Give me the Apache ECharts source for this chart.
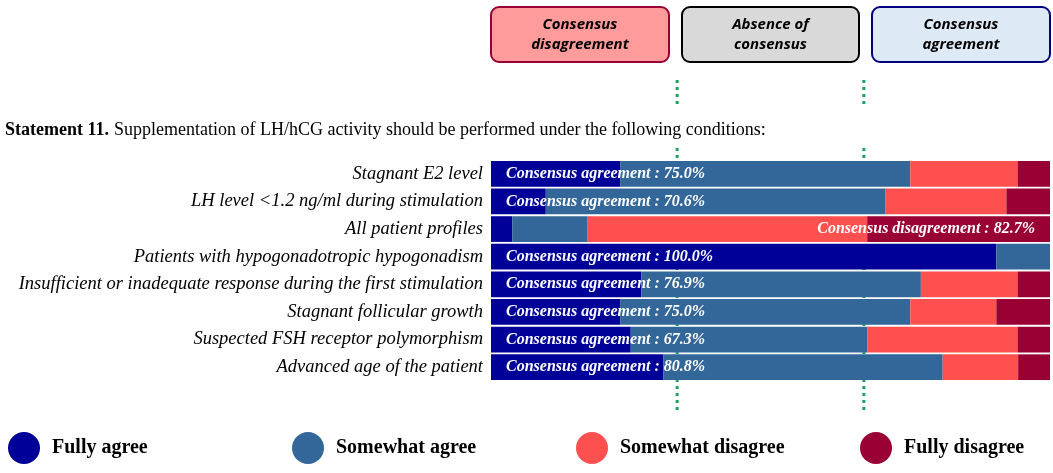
<!DOCTYPE html>
<html>
<head>
<meta charset="utf-8">
<script src="https://cdn.jsdelivr.net/npm/echarts@6/dist/echarts.min.js"></script>
<style>
  html, body { margin: 0; padding: 0; background: #fff; }
  #chart { width: 1053px; height: 473px; }
</style>
</head>
<body>
<div id="chart"></div>
<script>
// statement 11 - categories top to bottom
const categories = [
  'Stagnant E2 level',
  'LH level <1.2 ng/ml during stimulation',
  'All patient profiles',
  'Patients with hypogonadotropic hypogonadism',
  'Insufficient or inadequate response during the first stimulation',
  'Stagnant follicular growth',
  'Suspected FSH receptor polymorphism',
  'Advanced age of the patient'
];

// percentages
const fullyAgree       = [23.1, 9.8, 3.8, 90.4, 26.9, 23.1, 25.0, 30.8];
const somewhatAgree    = [51.9, 60.8, 13.5, 9.6, 50.0, 51.9, 42.3, 50.0];
const somewhatDisagree = [19.2, 21.6, 50.0, 0, 17.3, 15.4, 26.9, 13.5];
const fullyDisagree    = [5.8, 7.8, 32.7, 0, 5.8, 9.6, 5.8, 5.8];

const seriesNames = ['Fully agree', 'Somewhat agree', 'Somewhat disagree', 'Fully disagree'];
const seriesColors = ['#000099', '#336699', '#ff5050', '#990033'];

// consensus thresholds (percent)
const thresholds = [33.3, 66.7];

const serif = '"Liberation Serif", "Times New Roman", serif';
const sans = '"Open Sans", "Noto Sans", sans-serif';

// consensus label per row
const consensusLabels = categories.map((c, i) => {
  let agree = fullyAgree[i] + somewhatAgree[i];
  let disagree = somewhatDisagree[i] + fullyDisagree[i];
  if (disagree >= thresholds[1]) {
    return { value: 100, label: { position: 'insideRight', formatter: 'Consensus disagreement : ' + disagree.toFixed(1) + '%' } };
  }
  return { value: 100, label: { position: 'insideLeft', formatter: 'Consensus agreement : ' + agree.toFixed(1) + '%' } };
});

const chart = echarts.init(document.getElementById('chart'));

const dataSets = [fullyAgree, somewhatAgree, somewhatDisagree, fullyDisagree];
const series = dataSets.map((d, i) => ({
  name: seriesNames[i],
  type: 'bar',
  stack: 'total',
  data: d,
  barCategoryGap: '7%',
  itemStyle: { color: seriesColors[i] },
  emphasis: { disabled: true }
}));

// transparent overlay carrying the consensus text
series.push({
  name: 'consensus',
  type: 'bar',
  data: consensusLabels,
  barGap: '-100%',
  z: 3,
  silent: true,
  itemStyle: { color: 'rgba(0,0,0,0)' },
  label: {
    show: true,
    distance: 15,
    color: '#fff',
    fontFamily: serif,
    fontStyle: 'italic',
    fontWeight: 'bold',
    fontSize: 16
  }
});

// one legend per item so they sit on a fixed spacing
const legendLefts = [3, 287, 571, 855];
const legends = seriesNames.map((n, i) => ({
  data: [n],
  left: legendLefts[i],
  top: 427,
  icon: 'circle',
  itemWidth: 32,
  itemHeight: 32,
  selectedMode: false,
  textStyle: {
    fontFamily: serif,
    fontWeight: 'bold',
    fontSize: 20,
    color: '#000',
    padding: [0, 0, 0, 7]
  }
}));

const option = {
  animation: false,
  backgroundColor: '#fff',
  title: {
    left: 0,
    top: 116,
    text: '{b|Statement 11.} {n|Supplementation of LH/hCG activity should be performed under the following conditions:}',
    textStyle: {
      rich: {
        b: { fontFamily: serif, fontWeight: 'bold', fontSize: 18, color: '#000' },
        n: { fontFamily: serif, fontWeight: 'normal', fontSize: 18, color: '#000' }
      }
    }
  },
  legend: legends,
  grid: { left: 491, right: 3, top: 160, bottom: 92 },
  xAxis: {
    type: 'value',
    min: 0,
    max: 100,
    show: false
  },
  yAxis: {
    type: 'category',
    data: categories,
    inverse: true,
    axisLine: { show: false },
    axisTick: { show: false },
    axisLabel: {
      margin: 8,
      color: '#000',
      fontFamily: serif,
      fontStyle: 'italic',
      fontSize: 18.5
    }
  },
  series: series
};

chart.setOption(option);

// header boxes + dotted threshold lines
const boxes = [
  { text: 'Consensus\ndisagreement', x: 491, w: 178, fill: '#ff9b9b', stroke: '#990033' },
  { text: 'Absence of\nconsensus', x: 682, w: 177, fill: '#d9d9d9', stroke: '#000000' },
  { text: 'Consensus\nagreement', x: 872, w: 178, fill: '#dee9f6', stroke: '#000080' }
];

let graphics = [];
boxes.forEach(b => {
  graphics.push({
    type: 'rect',
    shape: { x: b.x, y: 7, width: b.w, height: 55, r: 8 },
    style: { fill: b.fill, stroke: b.stroke, lineWidth: 2 }
  });
  graphics.push({
    type: 'text',
    x: b.x + b.w / 2,
    y: 35,
    style: {
      text: b.text,
      align: 'center',
      verticalAlign: 'middle',
      fontFamily: sans,
      fontStyle: 'italic',
      fontWeight: 'bold',
      fontSize: 15,
      lineHeight: 20,
      fill: '#000'
    }
  });
});

thresholds.forEach(t => {
  let px = chart.convertToPixel({ gridIndex: 0 }, [t, 0])[0];
  [[80, 107], [148, 410]].forEach(seg => {
    graphics.push({
      type: 'line',
      z: 0,
      shape: { x1: px, y1: seg[0], x2: px, y2: seg[1] },
      style: { stroke: '#1aa35a', lineWidth: 3, lineDash: [3, 4] }
    });
  });
});

chart.setOption({ graphic: graphics });
</script>
</body>
</html>
